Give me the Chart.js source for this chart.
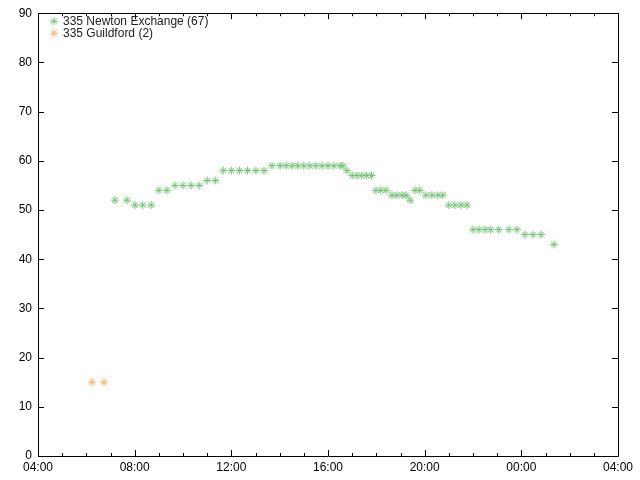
<!DOCTYPE html>
<html>
<head>
<meta charset="utf-8">
<script src="https://cdn.jsdelivr.net/npm/chart.js@4/dist/chart.umd.min.js"></script>
<style>
html,body{margin:0;padding:0;background:#fff;}
#c{display:block;}
</style>
</head>
<body>
<canvas id="c" width="640" height="480"></canvas>
<script>
const seriesLabels = ["335 Newton Exchange (67)", "335 Guildford (2)"];
const seriesColors = ["#74c476", "#fdae6b"];

const newtonTimes = ["07:11","07:41","08:01","08:20","08:41","09:00","09:20","09:40","10:00","10:20",
  "10:40","11:00","11:20","11:40","12:00","12:20","12:40","13:01","13:21","13:41",
  "14:01","14:16","14:31","14:45","15:00","15:15","15:30","15:45","16:00","16:15",
  "16:30","16:37","16:47","17:00","17:12","17:24","17:36","17:48","17:59","18:11",
  "18:24","18:39","18:51","19:04","19:14","19:24","19:36","19:48","20:03","20:18",
  "20:33","20:45","21:00","21:15","21:30","21:45","22:00","22:15","22:30","22:44",
  "23:04","23:29","23:49","00:09","00:29","00:49","01:21"];
const newtonValues = [52,52,51,51,51,54,54,55,55,55,
  55,56,56,58,58,58,58,58,58,59,
  59,59,59,59,59,59,59,59,59,59,
  59,59,58,57,57,57,57,57,54,54,
  54,53,53,53,53,52,54,54,53,53,
  53,53,51,51,51,51,46,46,46,46,
  46,46,46,45,45,45,43];

const guildfordTimes = ["06:14","06:44"];
const guildfordValues = [15,15];

const xTickLabels = ["04:00","08:00","12:00","16:00","20:00","00:00","04:00"];
const yTickValues = [0,10,20,30,40,50,60,70,80,90];

function toHours(t){
  const [h,m] = t.split(":").map(Number);
  let v = h + m/60;
  if (v < 4) v += 24;
  return v;
}
function pts(times, values){
  return times.map((t,i)=>({x:toHours(t), y:values[i]}));
}

const FONT = "'Liberation Sans', Arial, sans-serif";

const framePlugin = {
  id: 'frame',
  afterDraw(chart){
    const ctx = chart.ctx, a = chart.chartArea;
    const xs = chart.scales.x, ys = chart.scales.y;
    ctx.save();
    ctx.strokeStyle = '#000';
    ctx.lineWidth = 1;
    ctx.beginPath();
    ctx.rect(Math.round(a.left)+0.5, Math.round(a.top)+0.5, Math.round(a.right-a.left), Math.round(a.bottom-a.top));
    ctx.stroke();
    ctx.beginPath();
    for (let h = xs.min; h <= xs.max; h += 1){
      const x = Math.round(xs.getPixelForValue(h)) + 0.5;
      const len = ((h - 4) % 4 === 0) ? 6 : 3;
      ctx.moveTo(x, a.bottom); ctx.lineTo(x, a.bottom - len);
      ctx.moveTo(x, a.top); ctx.lineTo(x, a.top + len);
    }
    yTickValues.forEach(v=>{
      const y = Math.round(ys.getPixelForValue(v)) + 0.5;
      ctx.moveTo(a.left, y); ctx.lineTo(a.left + 6, y);
      ctx.moveTo(a.right, y); ctx.lineTo(a.right - 6, y);
    });
    ctx.stroke();
    // legend inside plot
    ctx.font = "12px " + FONT;
    ctx.textBaseline = 'middle';
    ctx.textAlign = 'left';
    chart.data.datasets.forEach((ds,i)=>{
      const y = a.top + 8 + i*12;
      const x = a.left + 16;
      ctx.strokeStyle = ds.borderColor;
      ctx.fillStyle = ds.borderColor;
      Chart.helpers.drawPoint(ctx, {pointStyle:'star', radius:4, borderWidth:1, rotation:0}, x, y);
      ctx.fillStyle = '#222';
      ctx.fillText(ds.label, a.left + 25, y + 0.5);
    });
    ctx.restore();
  }
};

new Chart(document.getElementById('c'), {
  type: 'scatter',
  data: {
    datasets: [
      {label: seriesLabels[0], data: pts(newtonTimes, newtonValues), pointStyle:'star',
       pointRadius:4, pointBorderWidth:1, borderColor: seriesColors[0], backgroundColor: seriesColors[0]},
      {label: seriesLabels[1], data: pts(guildfordTimes, guildfordValues), pointStyle:'star',
       pointRadius:4, pointBorderWidth:1, borderColor: seriesColors[1], backgroundColor: seriesColors[1]}
    ]
  },
  options: {
    responsive: false,
    animation: false,
    layout: {padding: {top: 11, right: 22, left: 0, bottom: 0}},
    plugins: {legend: {display:false}, tooltip: {enabled:false}},
    scales: {
      x: {
        type: 'linear', min: 4, max: 28,
        grid: {display:false, drawTicks:false, tickLength:0}, border: {display:false},
        afterFit(s){ s.height = 24; },
        afterBuildTicks(s){ s.ticks = xTickLabels.map((l,i)=>({value: 4 + 4*i})); },
        ticks: {
          autoSkip:false, maxRotation:0, padding: 4, color:'#000',
          font:{family:FONT, size:12},
          callback: (v)=> xTickLabels[Math.round((v-4)/4)]
        }
      },
      y: {
        min: 0, max: 90,
        grid: {display:false, drawTicks:false, tickLength:0}, border: {display:false},
        afterFit(s){ s.width = 38; },
        afterBuildTicks(s){ s.ticks = yTickValues.map(v=>({value:v})); },
        ticks: {padding: 6, color:'#000', font:{family:FONT, size:12}}
      }
    }
  },
  plugins: [framePlugin]
});
</script>
</body>
</html>
